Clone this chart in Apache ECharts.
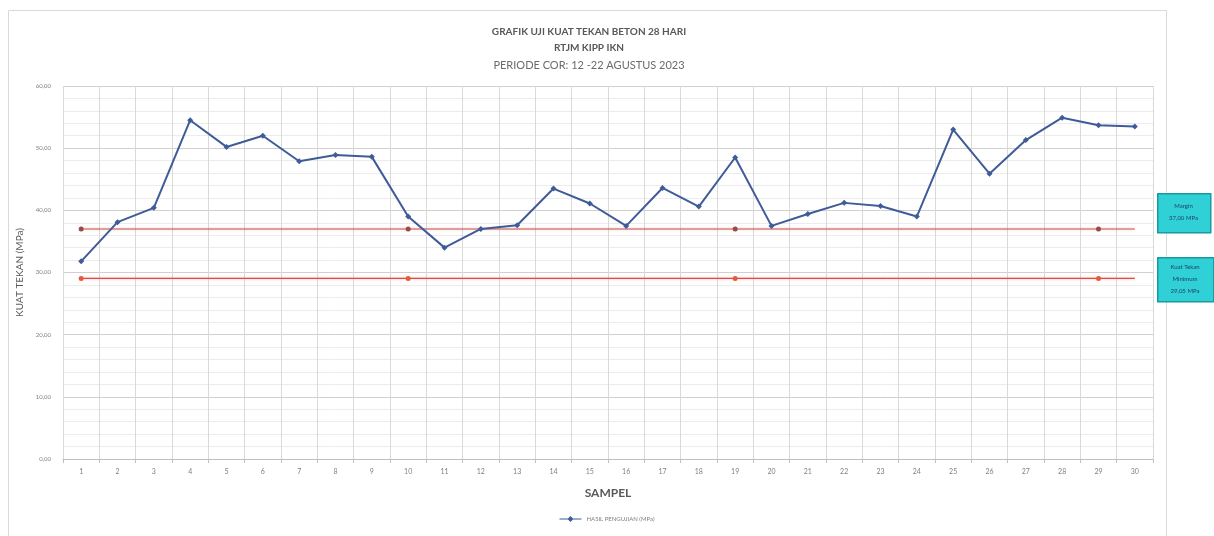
<!DOCTYPE html>
<html>
<head>
<meta charset="utf-8">
<script src="https://cdn.jsdelivr.net/npm/echarts@6/dist/echarts.min.js"></script>
<style>
  html, body { margin: 0; padding: 0; background: #ffffff; }
  #chart { width: 1214px; height: 536px; }
</style>
</head>
<body>
<div id="chart"></div>
<script>
// Sample numbers 1..30
const samples = ['1','2','3','4','5','6','7','8','9','10','11','12','13','14','15',
                 '16','17','18','19','20','21','22','23','24','25','26','27','28','29','30'];
// Compressive strength results (MPa)
const hasilPengujian = [31.8, 38.1, 40.4, 54.5, 50.2, 52.0, 47.9, 48.9, 48.6, 39.0,
                        34.0, 37.0, 37.6, 43.5, 41.1, 37.5, 43.6, 40.6, 48.5, 37.5,
                        39.4, 41.2, 40.7, 39.0, 53.0, 45.9, 51.3, 54.9, 53.7, 53.5];
const margin = 37.00;      // target margin (MPa)
const minimum = 29.05;     // minimum compressive strength (MPa)
const refMarkerIdx = [0, 9, 18, 28];
const yTicks = [0, 10, 20, 30, 40, 50, 60];

const fmt = v => v.toFixed(2).replace('.', ',');
const FONT = 'Lato, "Open Sans", sans-serif';

function refLine(value, markerColor) {
  return samples.map((s, i) => refMarkerIdx.includes(i)
    ? { value: value, symbol: 'circle', symbolSize: 5, itemStyle: { color: markerColor } }
    : { value: value, symbol: 'none' });
}

// Cyan annotation box with centred text
function noteBox(left, top, w, h, text) {
  return [
    { type: 'rect', left: left, top: top, z: 10,
      shape: { width: w, height: h },
      style: { fill: '#2fd0d6', stroke: '#1a9aa0', lineWidth: 1.5 } },
    { type: 'text', x: left + w / 2, y: top + h / 2, z: 11,
      style: { text: text, fill: '#1f3f5f', font: '6px ' + FONT,
               align: 'center', verticalAlign: 'middle', lineHeight: 12 } }
  ];
}

const chart = echarts.init(document.getElementById('chart'), null, { renderer: 'canvas' });
chart.setOption({
  animation: false,
  backgroundColor: '#ffffff',
  title: [
    { text: 'GRAFIK UJI KUAT TEKAN BETON 28 HARI', left: 584, top: 22, textAlign: 'center',
      textStyle: { fontFamily: FONT, fontSize: 10, fontWeight: 'bold', color: '#595959' } },
    { text: 'RTJM KIPP IKN', left: 584, top: 38, textAlign: 'center',
      textStyle: { fontFamily: FONT, fontSize: 10, fontWeight: 'bold', color: '#595959' } },
    { text: 'PERIODE COR: 12 -22 AGUSTUS 2023', left: 584, top: 55, textAlign: 'center',
      textStyle: { fontFamily: FONT, fontSize: 11, fontWeight: 'normal', color: '#6b6b6b' } }
  ],
  grid: { left: 63, right: 61, top: 86, bottom: 77, containLabel: false },
  legend: {
    bottom: 9, left: 'center',
    itemWidth: 22, itemHeight: 6, itemGap: 4,
    textStyle: { fontFamily: FONT, fontSize: 6, color: '#7f7f7f' },
    data: [{ name: 'HASIL PENGUJIAN (MPa)', icon: 'path://M0,2.5 L22,2.5 L22,3.5 L0,3.5 Z M8,3 L11,0 L14,3 L11,6 Z' }]
  },
  xAxis: {
    type: 'category',
    data: samples,
    boundaryGap: true,
    name: 'SAMPEL',
    nameLocation: 'middle',
    nameGap: 28,
    nameTextStyle: { fontFamily: FONT, fontSize: 12, fontWeight: 'bold', color: '#595959' },
    axisLine: { lineStyle: { color: '#bfbfbf', width: 1 } },
    axisTick: { show: true, alignWithLabel: false, length: 4, lineStyle: { color: '#bfbfbf' } },
    axisLabel: { fontFamily: FONT, fontSize: 7, color: '#7f7f7f', margin: 9 },
    splitLine: { show: true, lineStyle: { color: '#d9d9d9', width: 1 } }
  },
  yAxis: {
    type: 'value',
    min: yTicks[0], max: yTicks[yTicks.length - 1], interval: 10,
    name: 'KUAT TEKAN (MPa)',
    nameLocation: 'middle',
    nameGap: 28,
    nameRotate: 90,
    nameTextStyle: { fontFamily: FONT, fontSize: 10, color: '#595959' },
    axisLine: { show: false },
    axisTick: { show: false },
    axisLabel: { fontFamily: FONT, fontSize: 6, color: '#7f7f7f', margin: 12, formatter: fmt },
    splitLine: { show: true, lineStyle: { color: '#d0d0d0', width: 1 } },
    minorTick: { show: false, splitNumber: 5 },
    minorSplitLine: { show: true, lineStyle: { color: '#ececec', width: 1 } }
  },
  series: [
    {
      name: 'HASIL PENGUJIAN (MPa)',
      type: 'line',
      data: hasilPengujian,
      symbol: 'diamond',
      symbolSize: 6,
      lineStyle: { color: '#3f5b98', width: 2 },
      itemStyle: { color: '#3f5b98' },
      z: 5
    },
    {
      name: 'Margin',
      type: 'line',
      data: refLine(margin, '#9a4a45'),
      lineStyle: { color: '#c0504d', width: 1.2, shadowColor: 'rgba(240,120,120,0.5)', shadowBlur: 3 },
      itemStyle: { color: '#9a4a45' },
      z: 3
    },
    {
      name: 'Minimum',
      type: 'line',
      data: refLine(minimum, '#e8593a'),
      lineStyle: { color: '#e04848', width: 1.2, shadowColor: 'rgba(240,120,120,0.5)', shadowBlur: 3 },
      itemStyle: { color: '#e8593a' },
      z: 3
    }
  ],
  graphic: [
    { type: 'rect', left: 6, top: 8, shape: { width: 1158, height: 526 },
      style: { fill: 'none', stroke: '#d9d9d9', lineWidth: 1 }, z: -1 }
  ].concat(
    noteBox(1157, 193, 53, 39, 'Margin\n' + fmt(margin) + ' MPa'),
    noteBox(1157, 257, 56, 44, 'Kuat Tekan\nMinimum\n' + fmt(minimum) + ' MPa')
  )
});
</script>
</body>
</html>
